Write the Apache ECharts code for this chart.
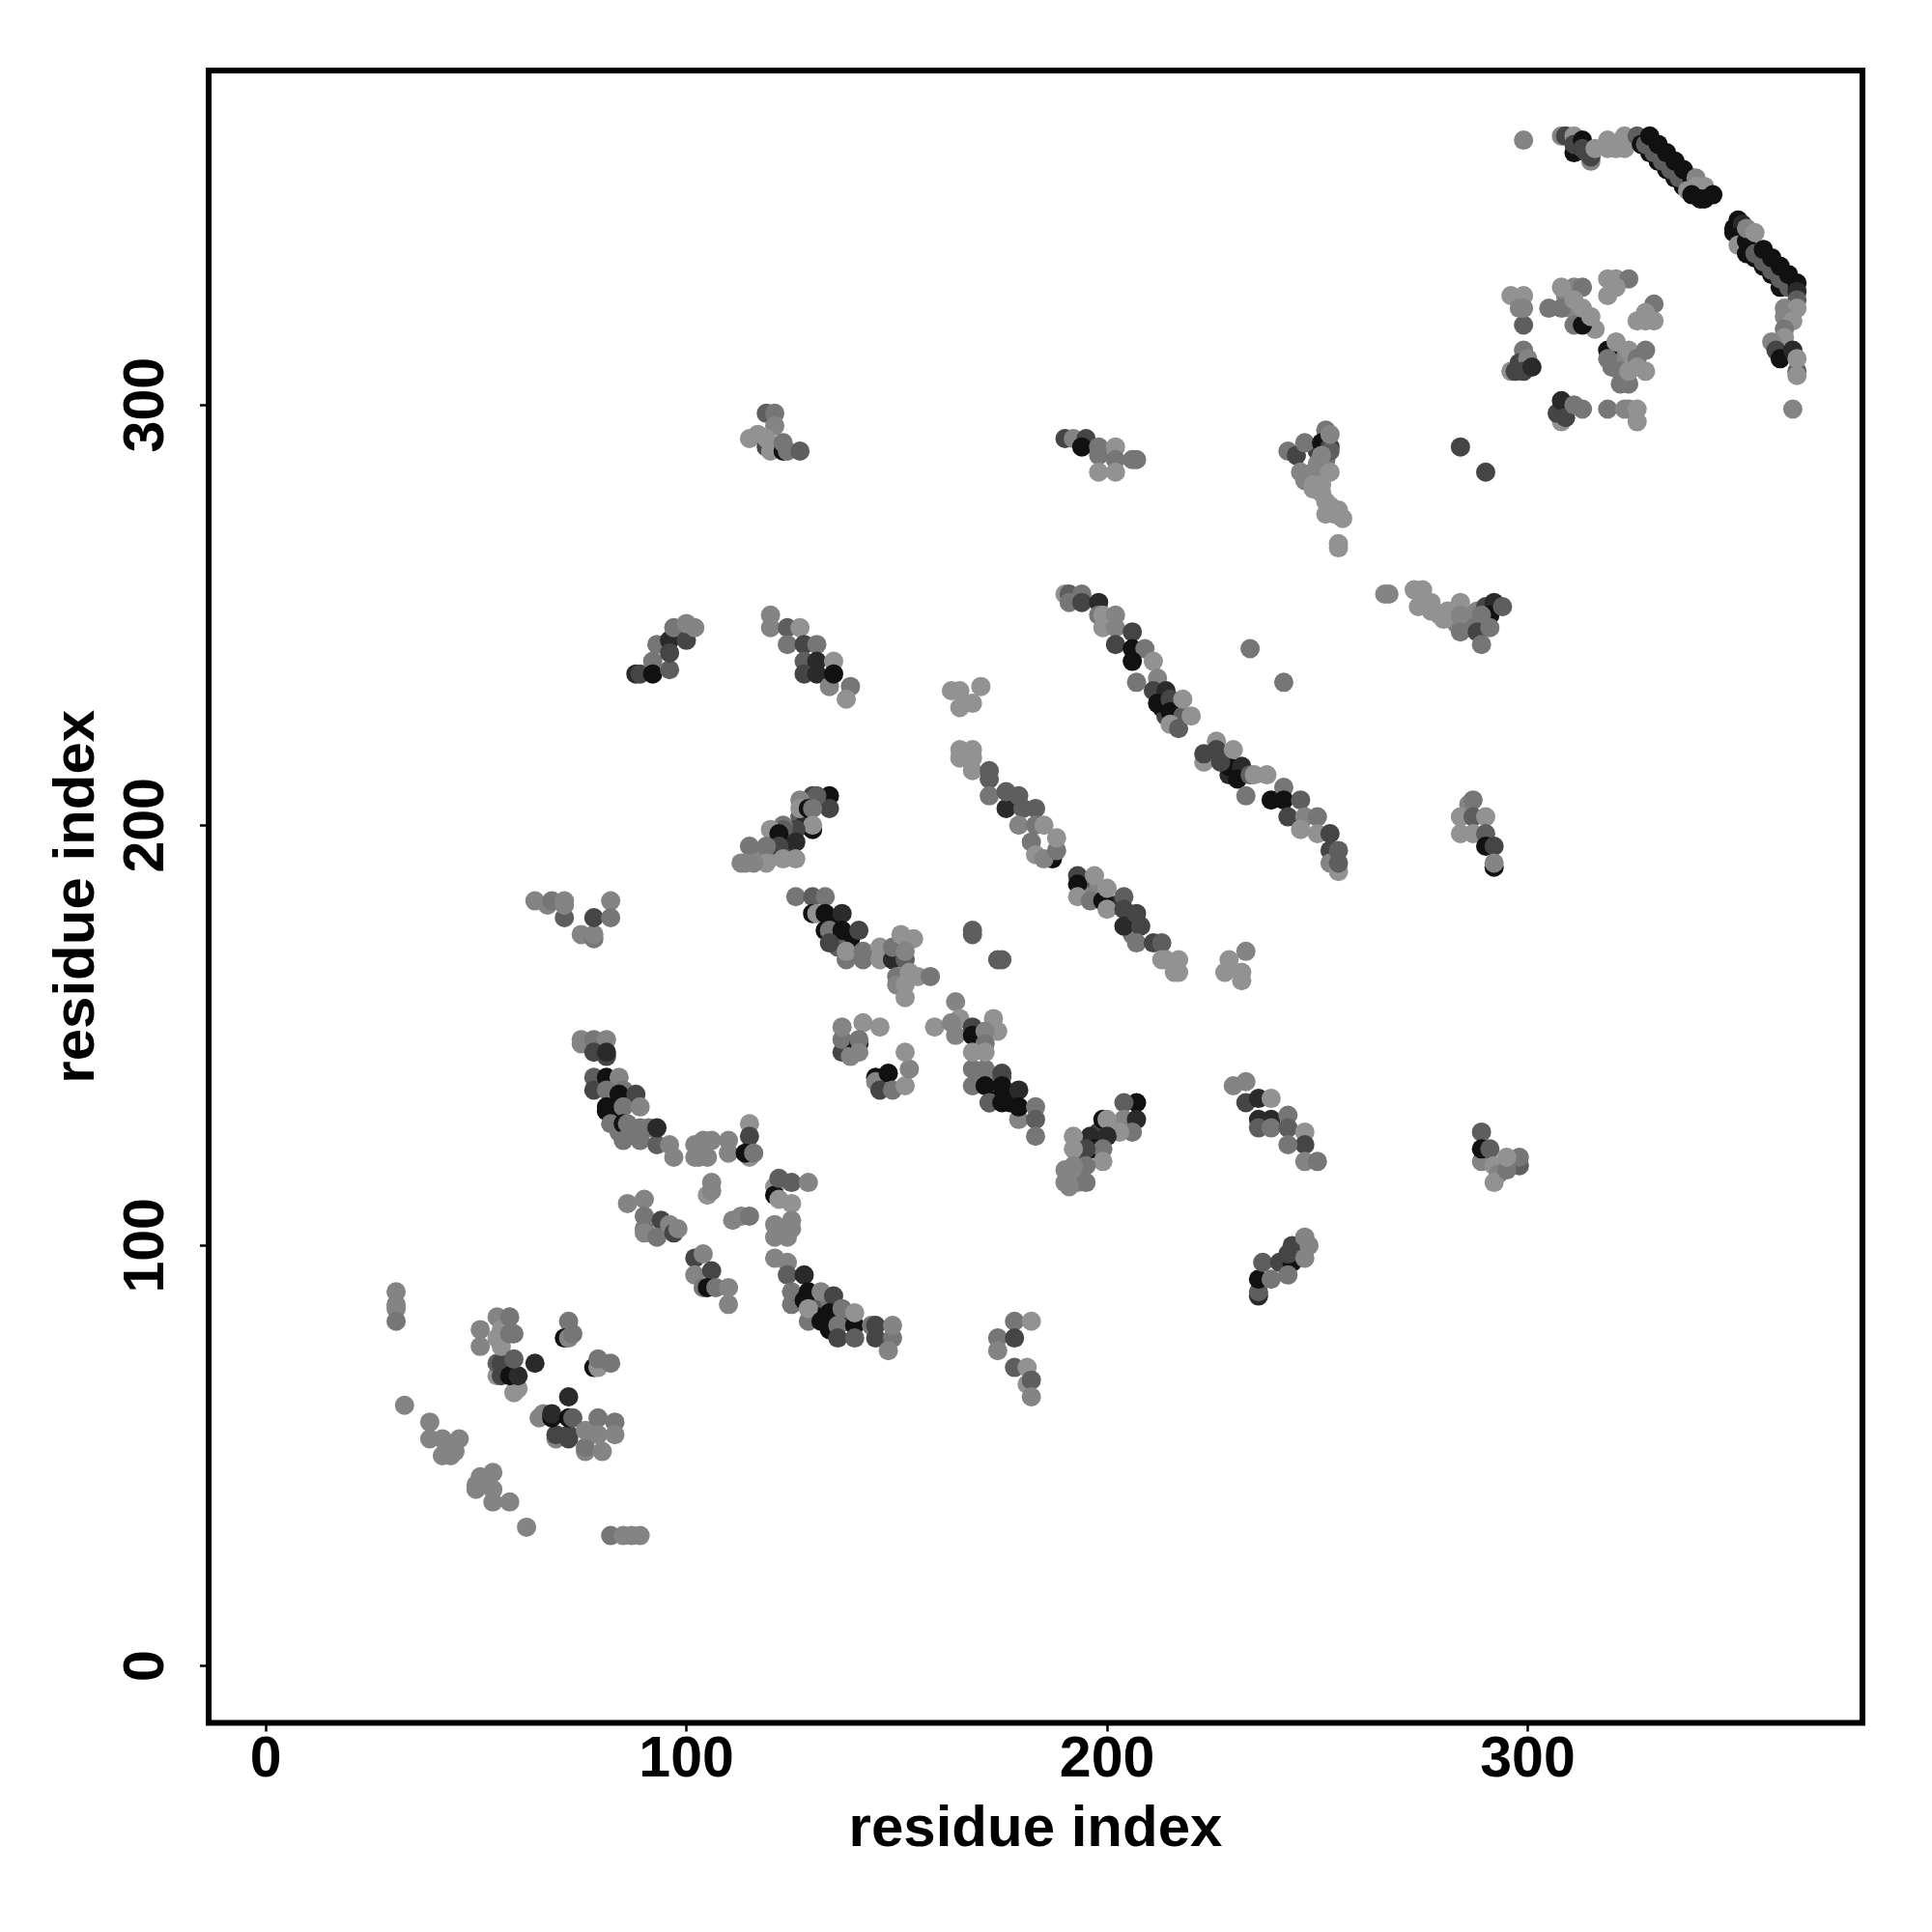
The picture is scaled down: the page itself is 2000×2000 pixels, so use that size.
<!DOCTYPE html>
<html><head><meta charset="utf-8">
<style>html,body{margin:0;padding:0;background:#fff}#c{width:2000px;height:2000px}</style>
<script src="https://cdn.jsdelivr.net/npm/echarts@6/dist/echarts.min.js"></script>
</head><body><div id="c"></div>
<script>
// each contact: [residue x, residue y, shade level 1 (darkest) .. 7 (lightest)], in drawing order
const underlay=[[83,131,1],[83,134,2],[86,135,3],[87,127,5],[84,127,5],[130,88,3],[131,85,4],[131,83,1],[134,87,5],[138,82,3],[134,80,1],[173,136,1],[176,136,1],[177,134,1],[170,140,6],[173,139,6],[194,122,3],[193,121,4],[197,125,2],[198,127,3],[193,118,6],[193,115,6],[213,231,3],[213,228,1],[216,228,3],[216,226,2],[214,226,3],[216,224,4],[228,216,3],[230,213,1],[229,212,2],[232,212,1],[124,197,2],[124,194,3],[121,193,6],[117,192,6],[113,191,6],[118,193,6],[127,202,4],[128,200,2],[135,177,1],[135,174,2],[139,173,1],[136,171,4],[194,185,4],[195,183,6],[198,185,6],[202,181,2],[206,174,5],[250,289,3],[252,287,5],[250,286,6],[247,282,6],[251,279,7],[253,276,7],[254,274,7],[279,250,7],[282,250,7],[283,248,6],[286,250,6],[286,247,5],[322,311,6],[320,309,5],[323,310,6],[325,310,7],[309,326,6],[310,323,6],[312,322,6],[314,320,7],[311,328,6],[316,318,7]];
const clusterA=[[31,89,6],[31,86,6],[31,85,6],[31,82,5],[33,62,6],[39,58,6],[39,54,6],[42,54,6],[46,54,6],[42,50,6],[44,50,6],[45,51,6],[43,52,6],[50,43,6],[50,42,6],[51,45,6],[52,44,6],[54,46,6],[54,42,6],[54,39,6],[58,39,6],[62,33,6],[82,31,5],[85,31,6],[87,31,6],[89,31,6]];
const clusterB=[[51,80,6],[51,76,6],[55,83,6],[55,69,7],[59,65,7],[60,66,7],[55,72,4],[56,72,3],[56,69,3],[55,78,7],[56,80,7],[56,76,7],[58,83,5],[58,79,5],[59,79,5],[58,69,1],[60,69,2],[59,73,4],[64,72,2]];
const clusterC=[[72,82,5],[71,78,1],[72,78,6],[73,79,5],[78,71,1],[79,71,7],[79,73,5],[82,72,5],[72,64,2],[65,59,6],[66,60,6],[69,54,6],[69,55,3],[72,54,3],[72,55,3],[68,59,1],[68,60,2],[72,59,1],[73,59,4],[76,51,6],[76,52,5],[76,56,6],[80,51,6],[79,59,5],[79,55,6],[83,58,5],[83,55,6]];
const clusterD=[[64,182,6],[67,181,6],[68,182,5],[71,178,4],[71,181,6],[71,182,6],[75,174,6],[78,173,5],[78,174,6],[78,178,3],[82,182,6],[82,178,5]];
const clusterE=[[75,149,6],[75,148,6],[78,149,5],[81,149,6],[78,146,3],[81,145,3],[81,146,2],[78,140,4],[78,137,3],[81,140,1],[84,140,6],[81,137,5],[85,137,5],[84,136,1],[88,136,3],[81,132,1],[81,133,1],[85,133,5],[89,133,6],[82,129,5],[85,129,1],[86,129,5],[85,125,5],[89,125,5],[89,128,5],[91,128,5],[93,124,4],[93,128,2],[96,124,6],[97,121,6]];
const clusterF=[[102,124,6],[102,121,6],[104,125,6],[106,125,6],[103,121,6],[105,121,6],[110,125,6],[110,122,6],[115,121,7],[115,129,7],[115,126,3],[114,122,1],[116,122,5],[106,115,6],[105,112,7],[106,113,6],[111,106,6],[113,107,6],[115,107,5]];
const clusterG=[[121,114,7],[121,112,1],[122,116,4],[125,115,4],[129,115,6],[122,111,7],[125,110,7],[125,106,6],[125,104,6],[121,105,6],[121,102,6],[124,102,6]];
const clusterH=[[86,110,6],[90,111,6],[90,107,5],[90,104,5],[90,103,6],[94,106,3],[93,102,5],[96,105,6],[97,103,3],[98,104,6],[102,97,3],[104,98,6],[102,93,6],[106,94,3],[104,90,5],[105,90,1],[107,90,5],[110,90,6],[110,86,6]];
const clusterI=[[121,97,6],[124,96,6],[124,93,4],[128,93,2],[125,89,5],[125,86,5],[129,89,1],[128,87,1],[129,82,5],[129,85,7],[132,89,6],[135,88,3],[132,82,1],[134,84,1],[137,85,5],[136,81,5],[136,78,3],[140,81,1],[140,78,4],[140,84,7],[144,81,5],[145,81,3],[145,78,3],[149,78,5],[149,81,6],[148,75,6]];
const clusterJ=[[172,134,3],[175,140,4],[168,142,5],[171,142,5],[175,141,3],[168,138,5],[171,138,1],[175,138,1],[179,137,2],[172,134,4],[175,134,1],[179,130,6],[179,133,1],[183,133,5],[183,130,4],[183,126,5]];
const clusterK=[[207,134,1],[204,134,4],[204,130,6],[207,130,2],[206,127,5],[203,127,7],[199,130,1],[200,130,7],[200,126,2],[196,126,2],[192,126,7],[197,123,1],[199,123,5],[195,123,3],[199,120,7],[195,119,5],[192,123,7],[192,119,6],[192,116,6],[195,115,5],[191,114,6],[190,118,6],[190,115,6]];
const clusterL=[[230,138,6],[233,139,6],[233,134,3],[236,135,2],[239,135,7],[236,130,2],[239,130,2],[236,128,4],[239,128,5],[243,131,5],[243,128,4],[247,127,7],[247,124,3],[243,124,5],[247,120,6],[250,120,5]];
const clusterM=[[236,88,2],[236,89,4],[236,92,1],[237,96,4],[239,92,5],[241,96,3],[244,96,1],[243,93,5],[243,98,3],[244,100,3],[247,97,6],[247,102,6],[248,100,6]];
const clusterN=[[289,127,4],[289,120,6],[289,123,1],[291,123,4],[298,119,4],[298,121,5],[292,119,7],[293,117,6],[292,115,7],[295,118,5],[295,121,7]];
const clusterO=[[178,82,5],[182,82,7],[174,78,5],[178,78,3],[174,75,6],[178,71,4],[181,71,7],[181,67,7],[182,68,4],[182,64,6]];
const clusterP=[[134,207,1],[134,204,3],[130,207,3],[131,207,4],[127,206,6],[127,204,7],[129,204,1],[130,204,5],[130,199,1],[130,200,7],[126,199,3],[123,200,5],[123,199,4],[120,199,7],[126,196,2],[122,198,1],[122,195,3],[119,195,5],[115,195,5],[126,192,7],[123,192,7],[119,191,7],[116,191,6],[114,191,6]];
const clusterQ=[[126,183,5],[130,183,4],[133,183,5],[130,179,1],[131,179,7],[133,179,1],[137,179,2],[133,175,1],[134,175,5],[137,175,1],[141,175,3],[134,172,3],[138,168,5],[138,170,7],[142,170,5],[142,168,5],[146,171,7],[146,168,7],[149,168,2],[149,171,5],[151,174,7],[154,173,7],[152,168,4],[152,170,6],[150,164,5],[150,162,6],[153,165,7],[155,164,7],[158,164,5],[152,162,7],[152,159,7]];
const clusterR=[[137,146,3],[137,149,5],[137,152,6],[142,153,7],[146,152,7],[140,146,1],[139,145,6],[141,148,1],[141,149,5],[141,146,6],[145,140,1],[145,139,6],[146,137,3],[148,141,1],[149,137,5],[152,138,7],[153,142,6],[152,146,7]];
const clusterS=[[163,232,7],[165,232,7],[170,233,7],[165,228,7],[168,229,7],[165,218,7],[165,216,7],[168,218,7],[168,216,7],[168,213,7],[172,211,4],[172,213,4],[172,207,5],[176,204,2],[176,208,4],[179,207,4],[180,204,4],[183,204,4],[179,200,6],[183,200,5],[185,200,7],[182,196,5],[183,193,7],[187,192,1],[185,192,6],[188,194,5],[188,197,7]];
const clusterT=[[193,188,3],[193,186,1],[193,183,7],[196,182,5],[197,188,7],[199,182,1],[200,185,7],[200,180,7],[204,183,4],[204,180,3],[204,176,2],[207,179,3],[208,176,3],[207,172,5],[211,172,3],[213,172,4],[214,168,7],[213,168,7],[217,168,7],[217,165,7],[216,165,7]];
const clusterU=[[233,170,6],[229,168,7],[228,165,7],[232,165,7],[232,163,7],[168,175,4],[168,174,4],[174,168,4],[175,168,4]];
const clusterV=[[164,158,6],[165,154,7],[159,152,7],[163,153,6],[164,150,6],[168,152,3],[168,150,1],[173,154,7],[174,151,7],[171,151,6],[171,148,5],[168,146,7],[171,146,7]];
const clusterW=[[190,292,3],[192,292,6],[195,292,3],[194,290,1],[198,290,5],[198,288,5],[202,290,7],[202,287,5],[206,287,5],[207,287,5],[198,284,7],[202,284,7]];
const clusterX=[[243,289,5],[245,288,3],[247,291,5],[252,294,5],[251,291,1],[253,290,3],[253,289,4],[253,293,6],[251,288,6],[246,284,6],[249,284,6],[253,284,7],[249,281,7],[251,281,7],[249,280,7],[252,277,7],[252,274,7],[255,275,7],[256,273,7],[255,267,7],[255,266,7]];
const loneDots=[[284,290,3],[290,284,3],[234,242,5],[242,234,5],[299,363,6],[363,299,6]];
const clusterY=[[266,255,6],[267,255,6],[273,256,7],[275,256,7],[274,252,7],[277,253,7],[277,251,7],[280,249,7],[281,251,7],[284,253,7],[284,250,6],[284,246,5]];
const clusterZ=[[288,251,6],[290,252,3],[292,253,2],[291,250,1],[294,252,4],[289,250,5],[288,246,3],[291,247,5],[289,243,5]];
const clusterNa=[[190,255,7],[191,255,4],[194,255,5],[191,253,5],[194,253,3],[198,253,2],[198,250,5],[199,250,7],[202,250,6],[199,247,7],[202,247,6],[206,246,3],[202,243,3],[206,242,1],[209,242,5],[206,239,1],[207,234,5],[211,239,7],[212,235,6]];
const clusterNb=[[211,232,3],[214,232,2],[212,229,1],[215,230,3],[215,227,1],[218,226,4],[215,224,7],[217,223,4],[218,230,7],[220,226,7]];
const clusterOa=[[223,215,7],[223,217,3],[226,220,7],[226,218,3],[229,214,1],[227,215,3],[232,214,2],[231,211,1],[234,212,4],[230,218,7],[235,212,7],[238,212,7],[233,207,5]];
const clusterOb=[[239,206,1],[242,209,5],[242,206,1],[246,206,4],[243,202,3],[247,202,6],[250,202,5],[246,199,7],[250,198,7],[253,198,3],[253,194,3],[253,191,6],[255,189,7],[255,191,4],[255,194,4]];
const clusterPa=[[286,205,6],[287,206,5],[284,202,7],[287,202,4],[290,202,7],[284,198,7],[287,198,7],[290,198,4],[290,195,1],[292,195,3],[292,190,1],[292,191,6]];
const clusterUa=[[119,298,4],[121,298,5],[121,295,6],[115,292,7],[117,293,7],[119,290,3],[119,292,7],[120,289,7],[123,289,1],[123,291,5],[124,289,5],[127,289,4]];
const clusterSa=[[88,236,2],[89,236,3],[92,239,5],[92,236,1],[96,237,4],[93,243,5],[96,244,2],[96,241,3],[97,247,5],[100,244,3],[100,248,6],[102,247,6]];
const clusterTa=[[120,250,6],[120,247,6],[124,247,4],[127,247,7],[124,243,5],[128,243,3],[131,243,5],[128,239,4],[131,239,2],[135,239,7],[128,236,3],[131,236,2],[134,233,6],[135,236,1],[139,233,5],[138,230,7]];
const clusterTop=[[308,364,6],[309,364,3],[311,364,7],[311,360,1],[311,362,3],[313,363,1],[313,361,3],[314,360,3],[315,358,6],[315,359,3],[316,361,7],[319,363,7],[319,361,7],[321,361,7],[323,364,7],[323,361,7],[326,364,4]];
const arcOne=[[327,362,1],[329,360,1],[331,358,1],[333,356,1],[335,354,1],[337,352,1],[328,362,4],[330,360,4],[332,358,4],[334,356,4],[336,354,4],[329,364,1],[331,362,1],[333,360,1],[335,358,1],[337,356,1],[339,354,1],[338,351,7],[340,354,6],[340,352,7],[342,352,7],[339,350,1],[341,349,1],[342,349,1],[344,350,1]];
const arcTwo=[[349,341,1],[349,342,1],[350,344,1],[351,343,2],[350,340,1],[350,338,7],[352,339,1],[352,336,1],[354,335,1],[356,333,1],[358,331,1],[360,328,1],[354,336,4],[356,334,4],[358,332,4],[360,330,4],[362,328,4],[356,337,1],[358,335,1],[360,333,1],[362,331,1],[364,329,1],[352,342,6],[354,341,7]];
const arcTail=[[364,327,2],[364,325,4],[361,323,6],[364,323,7],[361,321,6],[363,320,7],[361,318,5],[361,316,7],[358,315,6],[359,313,3],[360,311,1],[363,313,2],[364,308,4],[364,307,7],[364,311,7]];
const clusterYa=[[299,319,4],[296,326,7],[299,326,7],[298,323,6],[299,323,6],[305,323,5],[308,323,5],[308,328,7],[313,328,5],[311,319,5],[311,325,7],[313,319,1],[313,323,7],[315,321,7]];
const clusterYb=[[319,330,7],[319,326,7],[321,330,7],[324,330,5],[321,328,7],[330,324,5],[328,322,7],[326,320,7],[330,320,7],[328,320,7]];
const clusterYc=[[296,308,7],[299,313,5],[298,310,3],[300,311,6],[297,308,3],[299,308,3],[301,309,2]];
const clusterYd=[[319,313,1],[319,311,5],[321,315,7],[322,305,5],[324,305,5],[322,308,5],[324,308,7],[324,313,7],[326,311,5],[328,313,5],[326,309,7],[328,308,7]];
const clusterYe=[[308,296,7],[307,298,3],[308,301,2],[309,297,3],[311,300,5],[313,299,5],[319,299,5],[323,299,6],[324,299,6],[326,296,7],[326,299,7]];
const contacts=[].concat(underlay,clusterA,clusterB,clusterC,clusterD,clusterE,clusterF,clusterG,clusterH,clusterI,clusterJ,clusterK,clusterL,clusterM,clusterN,clusterO,clusterP,clusterQ,clusterR,clusterS,clusterT,clusterU,clusterV,clusterW,clusterX,loneDots,clusterY,clusterZ,clusterNa,clusterNb,clusterOa,clusterOb,clusterPa,clusterUa,clusterSa,clusterTa,clusterTop,arcOne,arcTwo,arcTail,clusterYa,clusterYb,clusterYc,clusterYd,clusterYe);
const tickValues=[0,100,200,300];
const shades=['#000','#111111','#2a2a2a','#454545','#5e5e5e','#767676','#848484','#929292'];
const axisCommon={type:'value',min:-13.56,max:379.56,name:'residue index',nameLocation:'middle',
  nameTextStyle:{fontFamily:'Liberation Sans',fontWeight:'bold',fontSize:60,color:'#000'},
  splitLine:{show:false},axisLine:{show:false,onZero:false},
  axisTick:{show:true,length:9,inside:false,customValues:tickValues,lineStyle:{color:'#000',width:2.5}}};
const chart=echarts.init(document.getElementById('c'),null,{renderer:'canvas'});
chart.setOption({animation:false,backgroundColor:'#fff',
  grid:{left:216,top:73,width:1712,height:1710.5,show:true,borderColor:'#000',borderWidth:6,backgroundColor:'transparent'},
  xAxis:Object.assign({},axisCommon,{nameGap:81,axisLabel:{customValues:tickValues,margin:10,fontFamily:'Liberation Sans',fontWeight:'bold',fontSize:59,color:'#000'}}),
  yAxis:Object.assign({},axisCommon,{nameGap:106,nameRotate:90,axisLabel:{customValues:tickValues,rotate:90,margin:63,fontFamily:'Liberation Sans',fontWeight:'bold',fontSize:59,color:'#000',align:'center',verticalAlign:'middle'}}),
  series:[{type:'scatter',symbol:'circle',symbolSize:20,data:contacts,clip:false,
    itemStyle:{opacity:1,color:p=>shades[p.value[2]]}}]
});
</script></body></html>
